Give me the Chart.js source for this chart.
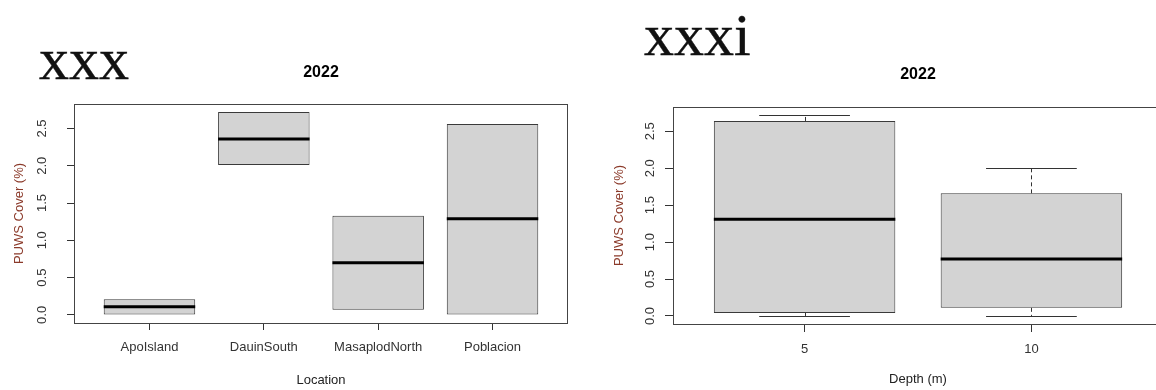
<!DOCTYPE html>
<html><head><meta charset="utf-8">
<script src="https://cdn.jsdelivr.net/npm/chart.js@4"></script>
<style>
html,body{margin:0;padding:0;width:1156px;height:390px;overflow:hidden;background:#fff;}
canvas{position:absolute;top:0;}
.roman{position:absolute;font-family:"Liberation Serif","Times New Roman",serif;font-size:60px;line-height:60px;color:#111;white-space:nowrap;filter:blur(0.6px);-webkit-text-stroke:0.4px #111;}
</style></head><body>
<div class="roman" style="left:39px;top:29px">xxx</div>
<div class="roman" style="left:644px;top:5px">xxxi</div>
<canvas id="c1" width="580" height="390" style="left:0"></canvas>
<canvas id="c2" width="595" height="390" style="left:580px"></canvas>
<script>
// ---- data ----
const locations = ['ApoIsland', 'DauinSouth', 'MasaplodNorth', 'Poblacion'];
const locLow    = [0.00, 2.01, 0.07, 0.00];
const locQ1     = [0.00, 2.01, 0.07, 0.00];
const locMedian = [0.11, 2.36, 0.70, 1.29];
const locQ3     = [0.21, 2.72, 1.33, 2.56];
const locHigh   = [0.21, 2.72, 1.33, 2.56];

const depths      = ['5', '10'];
const depthLow    = [0.00, 0.00];
const depthQ1     = [0.04, 0.11];
const depthMedian = [1.31, 0.77];
const depthQ3     = [2.64, 1.66];
const depthHigh   = [2.72, 2.00];

const yTicks = [0, 0.5, 1, 1.5, 2, 2.5];
const panelTitle = '2022';
const yTitle = 'PUWS Cover (%)';

Chart.defaults.font.family = "'Liberation Sans', Arial, sans-serif";

const boxPlugin = {
  id: 'boxExtras',
  afterDatasetsDraw(chart, args, opts) {
    const st = opts.stats; if (!st) return;
    const ys = chart.scales.y; const ctx = chart.ctx;
    const meta = chart.getDatasetMeta(0);
    ctx.save();
    meta.data.forEach((bar, i) => {
      const x = bar.x, w = bar.width;
      ctx.strokeStyle = '#333'; ctx.lineWidth = 1;
      const pairs = [[st.q3[i], st.high[i]], [st.q1[i], st.low[i]]];
      pairs.forEach(([edge, end]) => {
        if (Math.abs(end - edge) < 1e-9) return;
        const y0 = ys.getPixelForValue(edge), y1 = ys.getPixelForValue(end);
        ctx.setLineDash([4, 3]);
        ctx.beginPath(); ctx.moveTo(Math.round(x) + 0.5, y0); ctx.lineTo(Math.round(x) + 0.5, y1); ctx.stroke();
        ctx.setLineDash([]);
        const yy = Math.round(y1) + 0.5;
        ctx.beginPath(); ctx.moveTo(x - w / 4, yy); ctx.lineTo(x + w / 4, yy); ctx.stroke();
      });
      const ym = ys.getPixelForValue(st.median[i]);
      ctx.strokeStyle = '#000'; ctx.lineWidth = 3;
      ctx.beginPath(); ctx.moveTo(x - w / 2, ym); ctx.lineTo(x + w / 2, ym); ctx.stroke();
    });
    ctx.restore();
  },
  afterDraw(chart) {
    const a = chart.chartArea, ctx = chart.ctx;
    ctx.save();
    ctx.strokeStyle = '#444'; ctx.lineWidth = 1;
    ctx.strokeRect(Math.round(a.left) + 0.5, Math.round(a.top) + 0.5, Math.round(a.right - a.left) - 1, Math.round(a.bottom - a.top));
    ctx.restore();
  }
};

function makeBox(id, cats, low, q1, med, q3, high, xTitle, g) {
  const n = cats.length;
  const lo = Math.min(...low), hi = Math.max(...high), pad = 0.04 * (hi - lo);
  return new Chart(document.getElementById(id), {
    type: 'bar',
    data: {
      datasets: [{
        data: cats.map((c, i) => ({ x: i + 1, y: [q1[i], q3[i]] })),
        backgroundColor: '#d3d3d3',
        borderColor: '#3a3a3a',
        borderWidth: 1,
        borderSkipped: false,
        categoryPercentage: 1,
        barPercentage: 0.8
      }]
    },
    options: {
      responsive: false, animation: false,
      layout: { padding: { left: 0, right: g.right, top: 0, bottom: 0 } },
      plugins: {
        legend: { display: false }, tooltip: { enabled: false },
        title: { display: true, text: panelTitle, fullSize: false, color: '#000',
                 font: { size: 16, weight: 'bold' }, padding: { top: g.tTop, bottom: g.tBot } },
        boxExtras: { stats: { low, q1, median: med, q3, high } }
      },
      scales: {
        x: {
          type: 'linear', offset: false, min: 0.5 - 0.04 * n, max: n + 0.5 + 0.04 * n,
          afterBuildTicks: s => { s.ticks = cats.map((c, i) => ({ value: i + 1 })); },
          afterFit: s => { s.height = g.xH; },
          ticks: { callback: v => cats[v - 1] ?? '', autoSkip: false, minRotation: 0, maxRotation: 0,
                   padding: g.xPad, color: '#333', font: { size: 13 } },
          grid: { display: true, offset: false, drawOnChartArea: false, drawTicks: true, tickLength: g.xTick, color: '#333' },
          border: { display: false },
          title: { display: true, text: xTitle, color: '#222', font: { size: 13 }, padding: { top: 0, bottom: g.xtPad } }
        },
        y: {
          type: 'linear', min: lo - pad, max: hi + pad,
          afterBuildTicks: s => { s.ticks = yTicks.map(v => ({ value: v })); },
          afterFit: s => { s.width = g.yW; },
          ticks: { callback: v => Number(v).toFixed(1), minRotation: 90, maxRotation: 90, crossAlign: 'center',
                   padding: g.yPad, color: '#333', font: { size: 13 } },
          grid: { display: true, drawOnChartArea: false, drawTicks: true, tickLength: g.yTick, color: '#333' },
          border: { display: false },
          title: { display: true, text: yTitle, color: '#8b3a2a', font: { size: 13 }, padding: { top: g.ytPad, bottom: 0 } }
        }
      }
    },
    plugins: [boxPlugin]
  });
}

makeBox('c1', locations, locLow, locQ1, locMedian, locQ3, locHigh, 'Location',
  { right: 12, tTop: 63.4, tBot: 21.4, xH: 67, xPad: 10, xTick: 7, xtPad: 2, yW: 74, yPad: 16, yTick: 7, ytPad: 11.7 });
makeBox('c2', depths, depthLow, depthQ1, depthMedian, depthQ3, depthHigh, 'Depth (m)',
  { right: 12, tTop: 65.4, tBot: 22.4, xH: 66, xPad: 9.5, xTick: 8, xtPad: 2.5, yW: 93, yPad: 6, yTick: 8, ytPad: 31.2 });
</script>
</body></html>
